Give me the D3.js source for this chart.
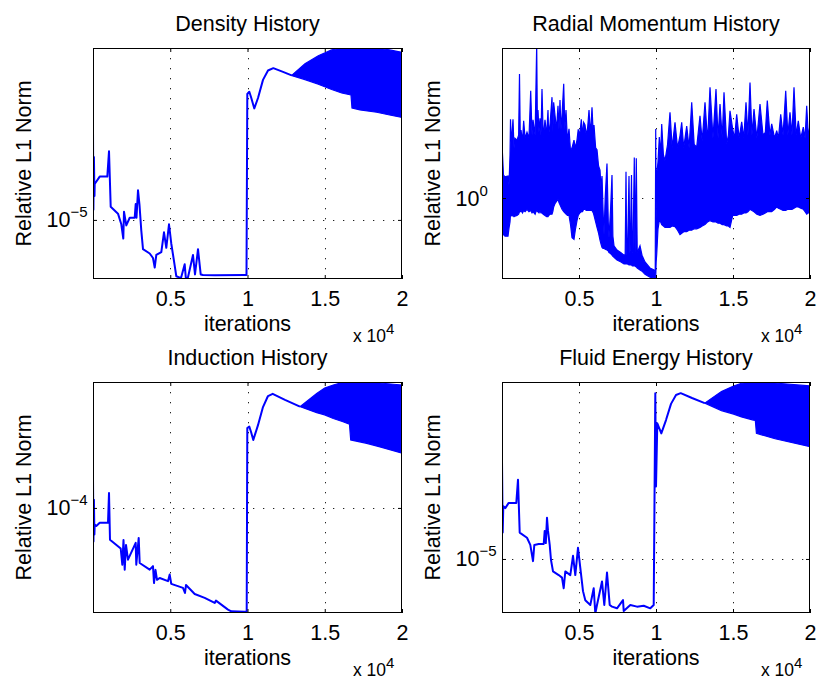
<!DOCTYPE html>
<html>
<head>
<meta charset="utf-8">
<script src="https://cdn.jsdelivr.net/npm/d3@7"></script>
<style>
body { margin: 0; background: #fff; }
text { font-family: "Liberation Sans", Arial, Helvetica, sans-serif; fill: #000; }
</style>
</head>
<body>
<svg id="fig" width="817" height="684"></svg>
<script>
// x axis is iterations, shown in units of 10^4
var xTicks = [5000, 10000, 15000, 20000]
var xTickLabels = ["0.5", "1", "1.5", "2"]

// Density History
var densityIter = [1, 25, 60, 95, 110, 434, 926, 1036, 1146, 1618, 1832, 1961, 2006, 2155, 2375, 2699, 2764, 2815, 2913, 3010, 3126, 3236, 3670, 3883, 3994, 4097, 4421, 4595, 4744, 4919, 5068, 5243, 5392, 5696, 5935, 6019, 6149, 6472, 6602, 6796, 6971, 7120, 7896, 9819, 9935, 9987, 10117, 10227, 10440, 10680, 11003, 11327, 11670, 12298, 12860]
var densityVal = [2.24e-5, 1.1e-5, 1.8e-5, 1.25e-5, 1.4e-5, 1.5e-5, 1.5e-5, 1.9e-5, 1.13e-5, 1.06e-5, 9.6e-6, 8.4e-6, 1.08e-5, 9.5e-6, 1.02e-5, 1.02e-5, 1.16e-5, 1.02e-5, 1.32e-5, 1.15e-5, 9.05e-6, 7.6e-6, 7.3e-6, 7.0e-6, 6.4e-6, 7.2e-6, 7.4e-6, 8.9e-6, 7.7e-6, 9.6e-6, 8.0e-6, 6.8e-6, 5.9e-6, 5.8e-6, 6.6e-6, 5.7e-6, 5.85e-6, 7.2e-6, 6.0e-6, 7.6e-6, 6.0e-6, 5.97e-6, 5.95e-6, 5.97e-6, 5.97e-6, 3.25e-5, 3.32e-5, 3.16e-5, 2.84e-5, 3.13e-5, 3.71e-5, 4.05e-5, 4.14e-5, 4.0e-5, 3.87e-5]
var densityBandIter = [12860, 13720, 14582, 15450, 16096, 16698, 16763, 17280, 18360, 19200, 20000]
var densityBandHi = [3.87e-5, 4.31e-5, 4.65e-5, 4.91e-5, 5.0e-5, 5.0e-5, 5.0e-5, 5.0e-5, 5.0e-5, 4.91e-5, 4.8e-5]
var densityBandLo = [3.86e-5, 3.72e-5, 3.56e-5, 3.39e-5, 3.28e-5, 3.22e-5, 2.85e-5, 2.80e-5, 2.74e-5, 2.67e-5, 2.61e-5]

// Radial Momentum History: envelope of the dense oscillation (upper edge keeps the spikes)
var radialBandIter = [0, 97, 195, 390, 455, 520, 552, 600, 649, 714, 780, 844, 974, 1080, 1136, 1190, 1234, 1330, 1407, 1500, 1623, 1750, 1864, 1950, 2013, 2150, 2253, 2300, 2338, 2400, 2468, 2530, 2597, 2680, 2792, 2900, 2987, 3030, 3120, 3247, 3300, 3355, 3442, 3540, 3636, 3700, 3766, 3830, 3896, 4007, 4080, 4156, 4250, 4351, 4450, 4546, 4675, 4760, 4870, 4950, 5050, 5150, 5230, 5303, 5390, 5470, 5563, 5650, 5750, 5844, 5930, 5974, 6080, 6169, 6270, 6364, 6430, 6494, 6559, 6624, 6700, 6818, 6900, 6948, 7050, 7143, 7200, 7273, 7468, 7727, 7922, 8000, 8052, 8100, 8149, 8247, 8300, 8331, 8409, 8460, 8507, 8591, 8640, 8721, 8780, 8961, 9091, 9286, 9610, 9870, 9950, 9981, 10010, 10046, 10130, 10215, 10300, 10371, 10480, 10585, 10750, 10909, 11050, 11234, 11400, 11558, 11669, 11800, 11994, 12150, 12319, 12480, 12643, 12857, 13000, 13182, 13350, 13507, 13700, 13896, 14030, 14156, 14300, 14416, 14591, 14700, 14805, 14981, 15100, 15240, 15400, 15565, 15700, 15844, 15970, 16104, 16230, 16364, 16550, 16753, 16950, 17100, 17227, 17400, 17513, 17700, 17838, 17950, 18098, 18250, 18423, 18560, 18701, 18830, 18961, 19100, 19240, 19400, 19565, 19680, 19786, 19900, 20000]
var radialBandHi = [1.66, 1.24, 1.22, 1.23, 1.13, 1.5, 2.09, 1.7, 1.82, 2.09, 1.6, 1.75, 1.72, 1.8, 3.19, 1.7, 1.89, 1.7, 2.06, 1.75, 1.85, 1.75, 2.73, 1.8, 2.08, 1.8, 4.2, 1.9, 2.28, 1.85, 2.11, 1.8, 2.77, 1.75, 2.08, 1.8, 2.28, 1.8, 2.0, 2.57, 1.85, 2.45, 2.17, 1.9, 2.37, 1.9, 2.50, 1.9, 2.16, 2.91, 1.9, 2.28, 1.7, 1.91, 1.55, 1.60, 1.72, 1.6, 1.72, 1.9, 1.8, 2.09, 1.8, 2.03, 1.98, 1.8, 1.94, 2.28, 1.8, 2.34, 1.8, 1.98, 1.6, 1.57, 1.35, 1.30, 1.1, 1.23, 0.9, 0.71, 1.0, 1.38, 0.8, 0.69, 0.9, 1.24, 0.7, 0.64, 0.615, 0.60, 0.586, 0.59, 1.28, 0.59, 0.586, 1.23, 0.6, 0.615, 1.24, 0.6, 0.615, 1.46, 0.6, 1.45, 0.6, 0.64, 0.586, 0.55, 0.52, 0.51, 0.50, 1.91, 0.8, 1.25, 1.4, 1.77, 1.5, 2.0, 1.5, 1.42, 1.65, 2.23, 1.6, 2.03, 1.6, 1.79, 2.03, 1.6, 1.96, 1.6, 2.45, 1.65, 1.61, 2.16, 1.7, 2.45, 1.7, 2.82, 1.75, 2.77, 1.75, 2.41, 1.75, 2.69, 1.66, 1.8, 2.26, 1.9, 1.75, 2.19, 1.75, 2.04, 1.75, 2.45, 1.8, 2.95, 1.8, 2.30, 1.75, 2.41, 1.8, 1.85, 2.49, 1.8, 2.0, 1.75, 1.88, 1.75, 2.19, 1.8, 2.73, 1.8, 2.23, 1.8, 2.82, 1.8, 2.06, 1.75, 1.94, 1.75, 2.37, 1.75, 2.0]
var radialBandLo = [0.71, 0.71, 0.70, 0.70, 0.755, 0.80, 0.86, 0.85, 0.845, 0.85, 0.84, 0.845, 0.85, 0.86, 0.88, 0.88, 0.89, 0.87, 0.89, 0.88, 0.90, 0.88, 0.89, 0.87, 0.88, 0.86, 0.90, 0.88, 0.88, 0.87, 0.89, 0.87, 0.87, 0.86, 0.85, 0.84, 0.84, 0.85, 0.86, 0.86, 0.88, 0.92, 0.95, 0.97, 0.99, 0.96, 0.94, 0.92, 0.90, 0.88, 0.87, 0.86, 0.85, 0.85, 0.78, 0.69, 0.68, 0.74, 0.81, 0.85, 0.87, 0.88, 0.88, 0.90, 0.90, 0.89, 0.89, 0.89, 0.89, 0.89, 0.87, 0.85, 0.80, 0.76, 0.72, 0.675, 0.65, 0.63, 0.625, 0.625, 0.62, 0.615, 0.61, 0.60, 0.595, 0.586, 0.58, 0.575, 0.56, 0.55, 0.54, 0.54, 0.54, 0.54, 0.54, 0.535, 0.535, 0.535, 0.535, 0.53, 0.53, 0.53, 0.53, 0.525, 0.52, 0.51, 0.505, 0.49, 0.477, 0.473, 0.473, 0.473, 0.55, 0.59, 0.75, 0.81, 0.80, 0.78, 0.77, 0.76, 0.76, 0.76, 0.77, 0.765, 0.74, 0.71, 0.72, 0.73, 0.73, 0.74, 0.74, 0.75, 0.75, 0.76, 0.77, 0.78, 0.80, 0.81, 0.80, 0.80, 0.79, 0.79, 0.78, 0.78, 0.77, 0.77, 0.76, 0.85, 0.85, 0.85, 0.86, 0.86, 0.87, 0.87, 0.88, 0.90, 0.89, 0.88, 0.86, 0.85, 0.86, 0.87, 0.88, 0.88, 0.88, 0.90, 0.92, 0.91, 0.90, 0.89, 0.89, 0.90, 0.90, 0.90, 0.91, 0.92, 0.92, 0.91, 0.90, 0.88, 0.86, 0.87, 0.89]

// Induction History
var inductionIter = [1, 30, 60, 90, 110, 214, 434, 971, 1036, 1100, 1793, 1896, 1974, 2052, 2136, 2265, 2763, 2802, 2958, 3022, 3669, 3883, 3948, 4045, 4142, 4317, 4854, 4964, 5067, 5825, 5954, 6019, 6582, 7229, 7876, 7960, 8737, 8951, 9818, 9948, 9987, 10116, 10226, 10375, 10679, 11002, 11326, 11630, 12426, 13397]
var inductionVal = [1.30e-4, 7.3e-5, 1.08e-4, 7.8e-5, 8.55e-5, 8.45e-5, 8.7e-5, 8.7e-5, 1.15e-4, 7.43e-5, 6.84e-5, 5.88e-5, 7.41e-5, 5.61e-5, 7.07e-5, 6.16e-5, 7.21e-5, 5.88e-5, 7.55e-5, 5.97e-5, 5.61e-5, 5.8e-5, 4.95e-5, 5.6e-5, 5.1e-5, 5.19e-5, 5.04e-5, 5.36e-5, 4.91e-5, 4.73e-5, 4.51e-5, 4.86e-5, 4.47e-5, 4.31e-5, 4.11e-5, 4.2e-5, 3.86e-5, 3.80e-5, 3.78e-5, 3.78e-5, 2.11e-4, 2.14e-4, 2.04e-4, 1.89e-4, 2.17e-4, 2.57e-4, 2.85e-4, 2.91e-4, 2.75e-4, 2.58e-4]
var inductionBandIter = [13397, 14478, 14996, 15552, 16180, 16600, 16680, 17714, 18575, 20000]
var inductionBandHi = [2.58e-4, 2.92e-4, 3.07e-4, 3.16e-4, 3.24e-4, 3.25e-4, 3.25e-4, 3.25e-4, 3.22e-4, 3.16e-4]
var inductionBandLo = [2.58e-4, 2.44e-4, 2.39e-4, 2.31e-4, 2.24e-4, 2.19e-4, 1.89e-4, 1.83e-4, 1.77e-4, 1.67e-4]

// Fluid Energy History
var fluidIter = [1, 45, 84, 214, 435, 929, 1039, 1149, 1623, 1838, 2013, 2098, 2383, 2708, 2773, 2844, 2922, 2987, 3098, 3182, 3312, 3682, 3896, 4007, 4111, 4435, 4611, 4760, 4935, 5085, 5260, 5409, 5734, 5955, 6059, 6169, 6494, 6643, 6818, 6994, 7143, 7468, 7857, 7903, 8331, 8766, 9201, 9630, 9851, 9955, 10000, 10085, 10345, 10650, 10975, 11299, 11605, 12338, 13163]
var fluidVal = [2.46e-5, 1.28e-5, 1.64e-5, 1.61e-5, 1.69e-5, 1.69e-5, 2.10e-5, 1.28e-5, 1.22e-5, 1.14e-5, 9.8e-6, 1.14e-5, 1.15e-5, 1.15e-5, 1.30e-5, 1.16e-5, 1.47e-5, 1.30e-5, 1.14e-5, 9.9e-6, 8.9e-6, 8.6e-6, 8.4e-6, 7.6e-6, 8.9e-6, 8.6e-6, 1.03e-5, 8.6e-6, 1.11e-5, 9.2e-6, 7.4e-6, 6.8e-6, 6.5e-6, 7.6e-6, 6.0e-6, 6.5e-6, 8.1e-6, 6.5e-6, 8.8e-6, 6.5e-6, 6.4e-6, 6.3e-6, 6.8e-6, 6.15e-6, 6.5e-6, 6.4e-6, 6.45e-6, 6.3e-6, 6.5e-6, 4.72e-5, 1.97e-5, 3.56e-5, 3.24e-5, 3.67e-5, 4.27e-5, 4.64e-5, 4.72e-5, 4.51e-5, 4.30e-5]
var fluidBandIter = [13163, 14250, 15040, 15550, 16320, 16450, 16520, 17730, 20000]
var fluidBandHi = [4.30e-5, 4.79e-5, 5.05e-5, 5.18e-5, 5.23e-5, 5.23e-5, 5.23e-5, 5.19e-5, 5.05e-5]
var fluidBandLo = [4.30e-5, 4.01e-5, 3.88e-5, 3.78e-5, 3.67e-5, 3.66e-5, 3.24e-5, 3.08e-5, 2.86e-5]

var panels = [
    {title: "Density History", left: 93, top: 48, w: 309, yDomain: [5.75e-6, 5.0e-5], yTick: 1e-5, yExp: "\u22125",
     lineX: densityIter, lineY: densityVal, bandX: densityBandIter, bandHi: densityBandHi, bandLo: densityBandLo},
    {title: "Radial Momentum History", left: 502, top: 48, w: 308, yDomain: [0.469, 4.07], yTick: 1, yExp: "0",
     bandX: radialBandIter, bandHi: radialBandHi, bandLo: radialBandLo},
    {title: "Induction History", left: 93, top: 382, w: 309, yDomain: [3.74e-5, 3.25e-4], yTick: 1e-4, yExp: "\u22124",
     lineX: inductionIter, lineY: inductionVal, bandX: inductionBandIter, bandHi: inductionBandHi, bandLo: inductionBandLo},
    {title: "Fluid Energy History", left: 502, top: 382, w: 308, yDomain: [6.03e-6, 5.24e-5], yTick: 1e-5, yExp: "\u22125",
     lineX: fluidIter, lineY: fluidVal, bandX: fluidBandIter, bandHi: fluidBandHi, bandLo: fluidBandLo}
]

var svg = d3.select("#fig")
svg.append("rect").attr("width", 817).attr("height", 684).attr("fill", "#fff")

var H = 231
var blue = "#0000ff"
var fontSize = 21.5

panels.forEach(function(p, k) {
    var W = p.w
    var g = svg.append("g").attr("transform", "translate(" + p.left + "," + p.top + ")")

    var x = d3.scaleLinear().domain([0, 20000]).range([0, W])
    var y = d3.scaleLog().domain(p.yDomain).range([H, 0])

    g.append("clipPath").attr("id", "clip" + k)
        .append("rect").attr("width", W).attr("height", H)

    // dotted grid
    var grid = g.append("g").attr("stroke", "#222").attr("stroke-width", 1)
        .attr("stroke-dasharray", "1.3,8.7")
    grid.selectAll("line.gx").data(xTicks.slice(0, 3)).enter().append("line")
        .attr("x1", d => Math.round(x(d)) + 0.5).attr("x2", d => Math.round(x(d)) + 0.5)
        .attr("y1", 0).attr("y2", H)
    grid.append("line")
        .attr("x1", 0).attr("x2", W)
        .attr("y1", Math.round(y(p.yTick)) + 0.5).attr("y2", Math.round(y(p.yTick)) + 0.5)

    var plot = g.append("g").attr("clip-path", "url(#clip" + k + ")")

    if (p.bandX) {
        var band = d3.zip(p.bandX, p.bandHi, p.bandLo)
        plot.append("path")
            .attr("fill", blue)
            .attr("stroke", blue)
            .attr("stroke-width", 1.2)
            .attr("stroke-linejoin", "miter")
            .attr("d", d3.area()
                .x(d => x(d[0]))
                .y0(d => y(d[2]))
                .y1(d => y(d[1]))(band))
    }
    if (p.lineX) {
        var pts = d3.zip(p.lineX, p.lineY)
        plot.append("path")
            .attr("fill", "none")
            .attr("stroke", blue)
            .attr("stroke-width", 2)
            .attr("stroke-linejoin", "round")
            .attr("d", d3.line().x(d => x(d[0])).y(d => y(d[1]))(pts))
    }

    // axes (MATLAB style ticks point inward)
    var xb = g.append("g").attr("transform", "translate(0," + H + ")")
        .call(d3.axisBottom(x).tickValues(xTicks)
            .tickFormat((d, i) => xTickLabels[i])
            .tickSizeInner(-4).tickSizeOuter(0).tickPadding(12))
    xb.attr("font-size", fontSize).attr("font-family", null)
    xb.select(".domain").remove()

    var xt = g.append("g")
        .call(d3.axisTop(x).tickValues(xTicks).tickFormat("").tickSizeInner(-4).tickSizeOuter(0))
    xt.select(".domain").remove()

    var yl = g.append("g")
        .call(d3.axisLeft(y).tickValues([p.yTick]).tickFormat("").tickSizeInner(-4).tickSizeOuter(0))
    yl.select(".domain").remove()
    var yr = g.append("g").attr("transform", "translate(" + W + ",0)")
        .call(d3.axisRight(y).tickValues([p.yTick]).tickFormat("").tickSizeInner(-4).tickSizeOuter(0))
    yr.select(".domain").remove()

    // y tick label as 10 with superscript
    var yLab = g.append("text")
        .attr("x", -46.5)
        .attr("y", y(p.yTick) + 7.5)
        .attr("font-size", fontSize)
    yLab.append("tspan").text("10")
    yLab.append("tspan").attr("font-size", 15).attr("dy", -10).text(p.yExp)

    // box
    g.append("rect")
        .attr("x", 0.5).attr("y", 0.5)
        .attr("width", W - 1).attr("height", H - 1)
        .attr("fill", "none").attr("stroke", "#000").attr("stroke-width", 1)

    g.append("text")
        .attr("x", W / 2).attr("y", -17)
        .attr("text-anchor", "middle")
        .attr("font-size", fontSize)
        .text(p.title)

    g.append("text")
        .attr("transform", "translate(-62," + (H / 2) + ") rotate(-90)")
        .attr("text-anchor", "middle")
        .attr("font-size", fontSize)
        .text("Relative L1 Norm")

    g.append("text")
        .attr("x", W / 2).attr("y", H + 52)
        .attr("text-anchor", "middle")
        .attr("font-size", fontSize)
        .text("iterations")

    var mult = g.append("text")
        .attr("x", W - 49).attr("y", H + 63)
        .attr("font-size", 17.5)
    mult.append("tspan").text("x 10")
    mult.append("tspan").attr("font-size", 15).attr("dy", -8.5).text("4")
})
</script>
</body>
</html>
